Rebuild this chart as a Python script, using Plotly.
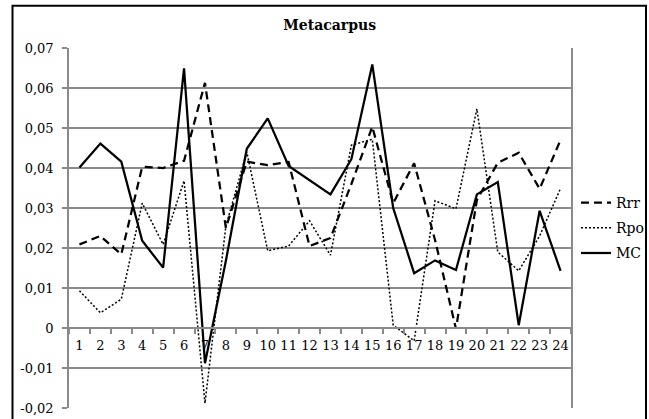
import plotly.graph_objects as go

categories = [str(i) for i in range(1, 25)]
rrr = [0.0209, 0.0230, 0.0184, 0.0403, 0.0400, 0.0418, 0.0613, 0.0250, 0.0416, 0.0407,
       0.0415, 0.0205, 0.0225, 0.0360, 0.0503, 0.0312, 0.0412, 0.0220, -0.0002, 0.0320,
       0.0413, 0.0438, 0.0348, 0.0470]
rpo = [0.0093, 0.0038, 0.0072, 0.0312, 0.0209, 0.0368, -0.0188, 0.0255, 0.0440, 0.0193,
       0.0205, 0.0268, 0.0182, 0.0457, 0.0472, 0.0007, -0.0032, 0.0318, 0.0298, 0.0548,
       0.0190, 0.0143, 0.0230, 0.0349]
mc = [0.0401, 0.0461, 0.0416, 0.0218, 0.0151, 0.0649, -0.0088, 0.0168, 0.0448, 0.0524,
      0.0405, 0.0370, 0.0334, 0.0422, 0.0659, 0.0300, 0.0137, 0.0169, 0.0145, 0.0334,
      0.0365, 0.0007, 0.0293, 0.0143]
y_ticks = [-0.02, -0.01, 0, 0.01, 0.02, 0.03, 0.04, 0.05, 0.06, 0.07]
y_tick_labels = ["-0,02", "-0,01", "0", "0,01", "0,02", "0,03", "0,04", "0,05", "0,06", "0,07"]

FONT = "DejaVu Serif"

fig = go.Figure()
fig.add_trace(go.Scatter(x=categories, y=rrr, mode="lines", name="Rrr", legendgroup="a",
                         line=dict(color="black", width=2.25, dash="8px,5px")))
fig.add_trace(go.Scatter(x=categories, y=rpo, mode="lines", name="Rpo", legendgroup="b",
                         line=dict(color="black", width=1.5, dash="2px,2px")))
fig.add_trace(go.Scatter(x=categories, y=mc, mode="lines", name="MC", legendgroup="c",
                         line=dict(color="black", width=2.25)))

fig.update_layout(
    width=649, height=419,
    margin=dict(l=69, r=78, t=48, b=11, autoexpand=False),
    paper_bgcolor="white", plot_bgcolor="white",
    font=dict(family=FONT, size=13, color="black"),
    title=dict(text="<b>Metacarpus</b>", x=0.508, xref="container", xanchor="center",
               y=1 - 25 / 419, yref="container", yanchor="middle",
               font=dict(family=FONT, size=14, color="black")),
    showlegend=True,
    legend=dict(x=1.01, xanchor="left", y=0.5, yanchor="middle",
                font=dict(family=FONT, size=14, color="black"),
                bgcolor="rgba(0,0,0,0)", tracegroupgap=4),
    xaxis=dict(type="category", anchor="free", position=2 / 9, range=[-0.5, 23.5],
               showgrid=False, showline=True, linecolor="#8a8a8a", linewidth=1.5,
               ticks="outside", ticklen=5, tickcolor="#8a8a8a", tickwidth=1.5,
               tickson="boundaries", ticklabelstandoff=6, tickangle=0,
               zeroline=False, fixedrange=True, automargin=False),
    yaxis=dict(range=[-0.02, 0.07], tickvals=y_ticks, ticktext=y_tick_labels,
               showgrid=True, gridcolor="#8a8a8a", gridwidth=1.5,
               showline=True, linecolor="#8a8a8a", linewidth=1.5, mirror=True,
               ticks="outside", ticklen=5, tickcolor="#8a8a8a", tickwidth=1.5,
               ticklabelstandoff=6, zeroline=False, automargin=False),
    shapes=[dict(type="rect", xref="paper", yref="paper",
                 x0=(12.5 - 69) / 502, x1=(646 - 69) / 502,
                 y0=(408.3 - 430) / 360, y1=(408.3 - 6) / 360,
                 line=dict(color="black", width=2), fillcolor="rgba(0,0,0,0)", layer="below")],
)

fig.write_html("out.html")
